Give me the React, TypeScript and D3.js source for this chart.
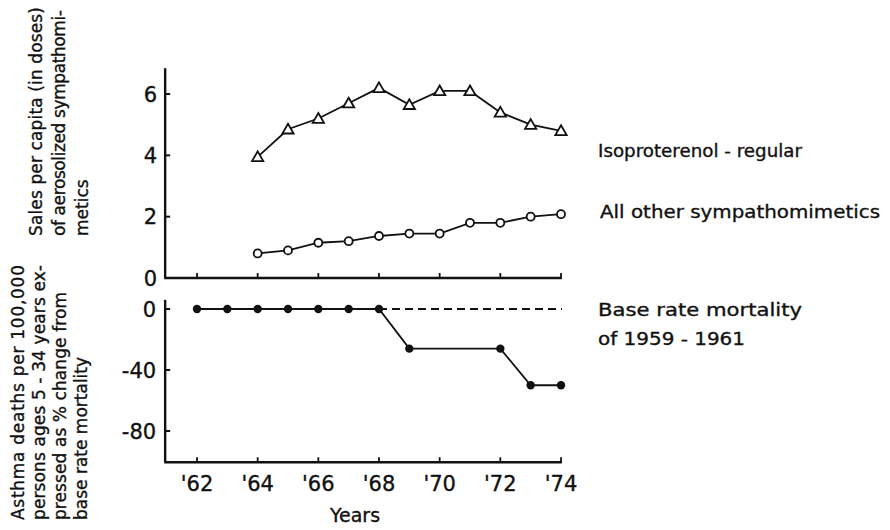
import React from "react";
import * as d3 from "d3";

// ---- data ----
const salesYears = [64, 65, 66, 67, 68, 69, 70, 71, 72, 73, 74];
const isoproterenol = [3.95, 4.85, 5.2, 5.7, 6.2, 5.65, 6.1, 6.1, 5.4, 5.0, 4.8];
const otherSympathomimetics = [0.8, 0.9, 1.15, 1.2, 1.37, 1.45, 1.45, 1.8, 1.8, 2.0, 2.08];
const mortalityYears = [62, 63, 64, 65, 66, 67, 68, 69, 72, 73, 74];
const mortalityChange = [0, 0, 0, 0, 0, 0, 0, -26, -26, -50, -50];
const xTicks = [62, 64, 66, 68, 70, 72, 74];
const xTickLabels = ["'62", "'64", "'66", "'68", "'70", "'72", "'74"];
const topYTicks = [0, 2, 4, 6];
const bottomYTicks = [0, -40, -80];
const baseRateStart = 68;

const FONT = "'DejaVu Sans', sans-serif";

export default function App() {
  const x = d3.scaleLinear().domain([62, 74]).range([197, 561]);
  const yTop = d3.scaleLinear().domain([0, 6]).range([278, 94]);
  const yBot = d3.scaleLinear().domain([0, -80]).range([309, 431]);

  const axisX0 = x(60.95);
  const axisX1 = x(74.03);

  const lineTop = d3
    .line<number>()
    .x((_, i) => x(salesYears[i]))
    .y((d) => yTop(d));
  const lineBot = d3
    .line<number>()
    .x((_, i) => x(mortalityYears[i]))
    .y((d) => yBot(d));

  const tri = d3.symbol().type(d3.symbolTriangle).size(55)();

  const stroke = "#111";
  const txt = { fill: "#111", stroke: "#111", strokeWidth: 0.35 };

  return (
    <svg
      width={890}
      height={530}
      style={{ position: "absolute", left: 0, top: 0, background: "#fff" }}
      fontFamily={FONT}
    >
      <rect x={0} y={0} width={890} height={530} fill="#fff" />

      {/* ---------- top panel axes ---------- */}
      <line x1={axisX0} x2={axisX0} y1={yTop(6.84)} y2={yTop(0)} stroke={stroke} strokeWidth={2.4} />
      <line x1={axisX0 - 1} x2={axisX1} y1={yTop(0)} y2={yTop(0)} stroke={stroke} strokeWidth={2.4} />
      {topYTicks.filter((t) => t !== 0).map((t) => (
        <line key={"tt" + t} x1={axisX0} x2={axisX0 + 5} y1={yTop(t)} y2={yTop(t)} stroke={stroke} strokeWidth={2} />
      ))}
      {topYTicks.map((t) => (
        <text key={"tl" + t} x={axisX0 - 8} y={yTop(t)} dy="0.36em" textAnchor="end" fontSize={21} {...txt}>
          {t}
        </text>
      ))}
      {xTicks.map((t) => (
        <line key={"xt" + t} x1={x(t)} x2={x(t)} y1={yTop(0)} y2={yTop(0) - 5} stroke={stroke} strokeWidth={1.8} />
      ))}

      {/* ---------- top panel series ---------- */}
      <path d={lineTop(isoproterenol) || ""} fill="none" stroke={stroke} strokeWidth={1.8} />
      {isoproterenol.map((v, i) => (
        <path
          key={"tri" + i}
          d={tri || ""}
          transform={`translate(${x(salesYears[i])},${yTop(v) + 1})`}
          fill="#fff"
          stroke={stroke}
          strokeWidth={1.8}
        />
      ))}
      <path d={lineTop(otherSympathomimetics) || ""} fill="none" stroke={stroke} strokeWidth={1.8} />
      {otherSympathomimetics.map((v, i) => (
        <circle key={"oc" + i} cx={x(salesYears[i])} cy={yTop(v)} r={4} fill="#fff" stroke={stroke} strokeWidth={1.8} />
      ))}

      {/* ---------- bottom panel axes ---------- */}
      <line x1={axisX0} x2={axisX0} y1={yBot(6)} y2={yBot(-100.5)} stroke={stroke} strokeWidth={2.4} />
      <line x1={axisX0 - 1} x2={axisX1} y1={yBot(-100.5)} y2={yBot(-100.5)} stroke={stroke} strokeWidth={2.4} />
      {bottomYTicks.map((t) => (
        <line key={"bt" + t} x1={axisX0} x2={axisX0 + 5} y1={yBot(t)} y2={yBot(t)} stroke={stroke} strokeWidth={2} />
      ))}
      {bottomYTicks.map((t) => (
        <text key={"bl" + t} x={axisX0 - 9} y={yBot(t)} dy="0.36em" textAnchor="end" fontSize={21} {...txt}>
          {t < 0 ? "-" + Math.abs(t) : t}
        </text>
      ))}
      {xTicks.map((t) => (
        <line key={"bxt" + t} x1={x(t)} x2={x(t)} y1={yBot(-100.5)} y2={yBot(-100.5) - 5} stroke={stroke} strokeWidth={1.8} />
      ))}
      {xTicks.map((t, i) => (
        <text key={"bxl" + t} x={x(t)} y={yBot(-100.5) + 29} textAnchor="middle" fontSize={21} {...txt}>
          {xTickLabels[i]}
        </text>
      ))}
      <text x={355} y={522} textAnchor="middle" fontSize={19} {...txt}>
        Years
      </text>

      {/* ---------- bottom panel series ---------- */}
      <line
        x1={x(baseRateStart)}
        x2={axisX1}
        y1={yBot(0)}
        y2={yBot(0)}
        stroke={stroke}
        strokeWidth={1.8}
        strokeDasharray="8,5"
      />
      <path d={lineBot(mortalityChange) || ""} fill="none" stroke={stroke} strokeWidth={1.8} />
      {mortalityChange.map((v, i) => (
        <circle key={"mc" + i} cx={x(mortalityYears[i])} cy={yBot(v)} r={4.2} fill={stroke} />
      ))}

      {/* ---------- right labels ---------- */}
      <g fontSize={18} {...txt}>
        <text x={598} y={157} textLength={204} lengthAdjust="spacingAndGlyphs">Isoproterenol - regular</text>
        <text x={600} y={218} textLength={280} lengthAdjust="spacingAndGlyphs">All other sympathomimetics</text>
        <text x={598} y={316} textLength={204} lengthAdjust="spacingAndGlyphs">Base rate mortality</text>
        <text x={598} y={345} textLength={147} lengthAdjust="spacingAndGlyphs">of 1959 - 1961</text>
      </g>

      {/* ---------- y-axis titles ---------- */}
      <g fontSize={17} {...txt}>
        <text transform="translate(42,236) rotate(-90)" textLength={229} lengthAdjust="spacing">
          Sales per capita (in doses)
        </text>
        <text transform="translate(65,236) rotate(-90)" textLength={226} lengthAdjust="spacing">
          of aerosolized sympathomi-
        </text>
        <text transform="translate(88,236) rotate(-90)">metics</text>

        <text transform="translate(24,520) rotate(-90)" textLength={255} lengthAdjust="spacing">
          Asthma deaths per 100,000
        </text>
        <text transform="translate(45,520) rotate(-90)" textLength={255} lengthAdjust="spacing">
          persons ages 5 - 34 years ex-
        </text>
        <text transform="translate(66,520) rotate(-90)" textLength={228} lengthAdjust="spacing">
          pressed as % change from
        </text>
        <text transform="translate(87,520) rotate(-90)">base rate mortality</text>
      </g>
    </svg>
  );
}
